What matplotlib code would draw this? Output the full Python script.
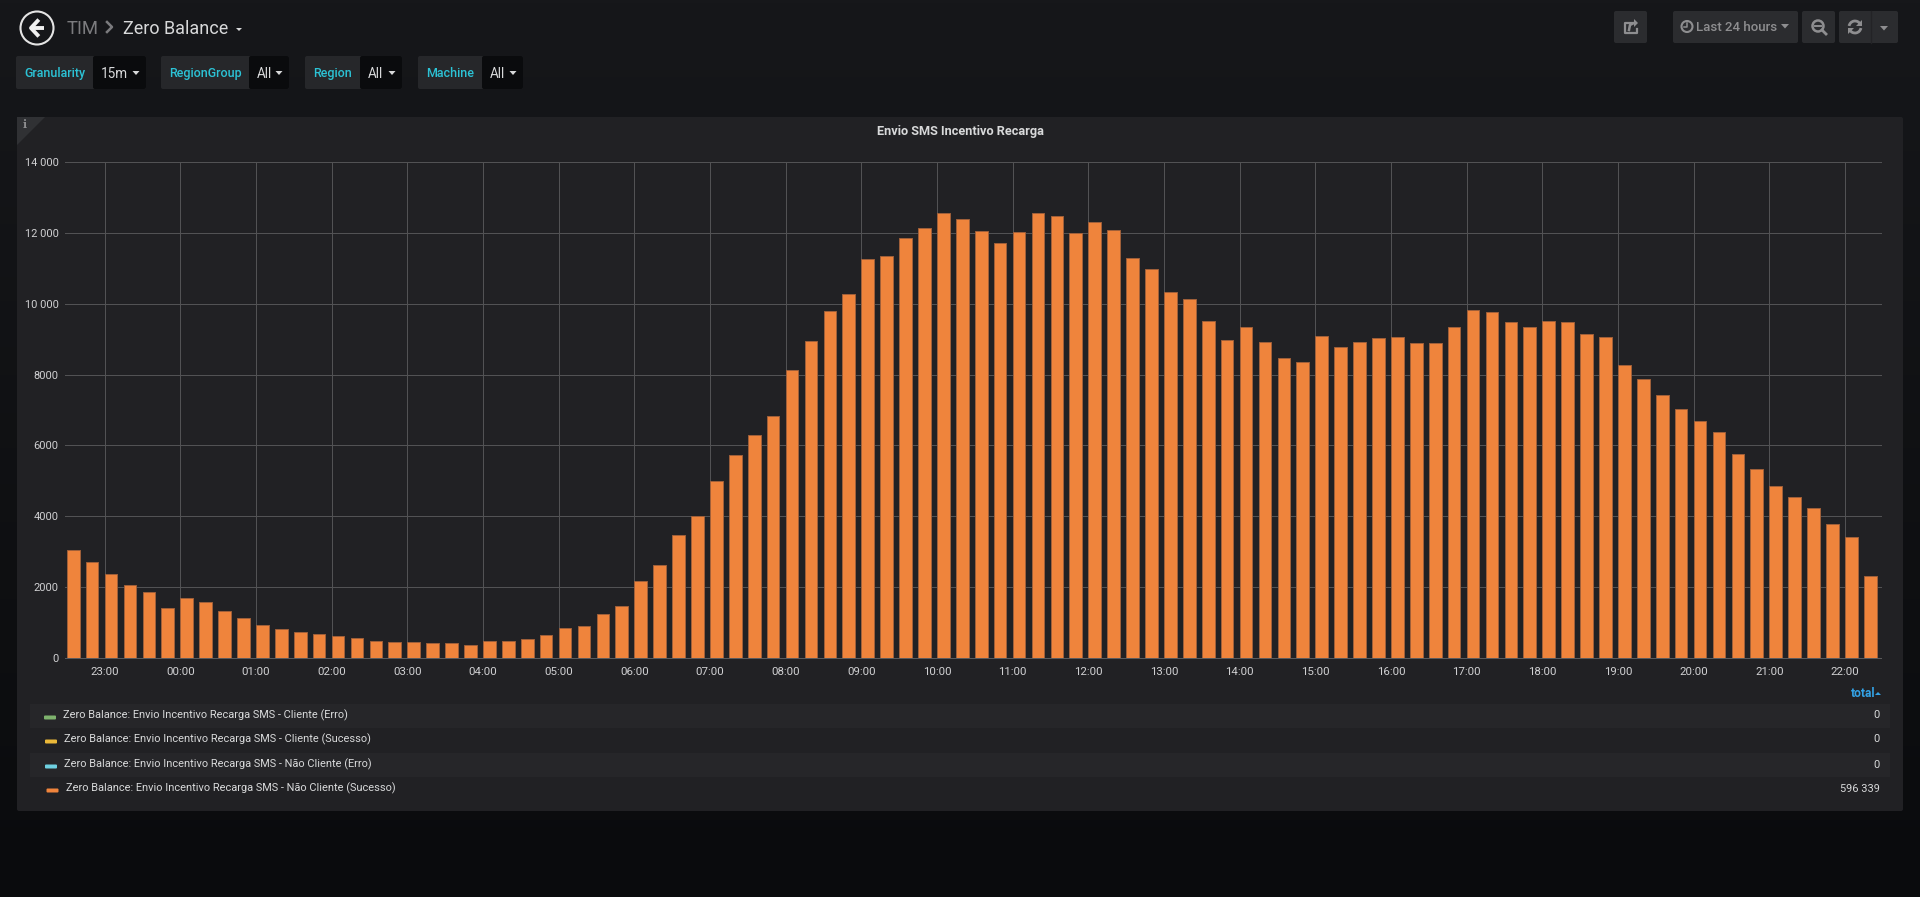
import numpy as np
import pandas as pd
import matplotlib
matplotlib.use("Agg")
import matplotlib.pyplot as plt
import matplotlib.dates as mdates
from matplotlib.patches import FancyBboxPatch, Rectangle, Polygon, Ellipse, Arc

plt.rcParams['font.family'] = ['Roboto', 'DejaVu Sans']

# values, one every 15 minutes starting 22:30
sms_sent = [3061, 2723, 2385, 2066, 1869, 1418, 1681, 1587, 1324, 1127, 920, 808,
            723, 667, 610, 554, 479, 451, 441, 423, 413, 376, 470, 488,
            526, 648, 836, 892, 1249, 1465, 2160, 2630, 3482, 4018, 4987, 5721,
            6295, 6832, 8130, 8949, 9796, 10266, 11264, 11358, 11847, 12130, 12572, 12384,
            12045, 11706, 12017, 12572, 12478, 12007, 12318, 12082, 11301, 10991, 10332, 10125,
            9504, 8968, 9344, 8911, 8460, 8347, 9090, 8770, 8921, 9034, 9062, 8902,
            8902, 9340, 9835, 9755, 9493, 9334, 9512, 9493, 9146, 9052, 8263, 7888,
            7418, 7024, 6676, 6385, 5747, 5324, 4855, 4554, 4226, 3784, 3418, 2310]
y_ticks = [0, 2000, 4000, 6000, 8000, 10000, 12000, 14000]
y_labels = ['0', '2000', '4000', '6000', '8000', '10 000', '12 000', '14 000']
series_names = ['Zero Balance: Envio Incentivo Recarga SMS - Cliente (Erro)',
                'Zero Balance: Envio Incentivo Recarga SMS - Cliente (Sucesso)',
                'Zero Balance: Envio Incentivo Recarga SMS - Não Cliente (Erro)',
                'Zero Balance: Envio Incentivo Recarga SMS - Não Cliente (Sucesso)']
series_colors = ['#7eb26d', '#eab839', '#6ed0e0', '#ef843c']
series_totals = ['0', '0', '0', '596 339']

W, H = 1920, 897
PANEL = '#212124'
CYAN = '#2cc3d6'


def px(size):
    return size * 0.72


fig = plt.figure(figsize=(W / 100, H / 100), dpi=100)

# page background and all the dashboard chrome, in pixel coordinates
bg = fig.add_axes([0, 0, 1, 1])
bg.set_xlim(0, W)
bg.set_ylim(H, 0)
bg.axis('off')
grad = np.linspace(0, 1, 256)[:, None, None]
top = np.array([0x16, 0x17, 0x1a]) / 255
bottom = np.array([0x0a, 0x0b, 0x0d]) / 255
bg.imshow(top + (bottom - top) * grad, extent=[0, W, H, 0], aspect='auto', zorder=0)


def box(x0, y0, x1, y1, color, round_=2):
    bg.add_patch(FancyBboxPatch((x0, y0), x1 - x0, y1 - y0, boxstyle='round,pad=0,rounding_size=%d' % round_,
                                fc=color, ec='none', zorder=1))


def caret(x, y, w, h, color):
    bg.add_patch(Polygon([(x - w / 2, y), (x + w / 2, y), (x, y + h)], fc=color, ec='none', zorder=3))


# back button and breadcrumb
bg.add_patch(Ellipse((37, 28), 33, 33, fc='none', ec='#e4e4e4', lw=1.5, zorder=3))
bg.plot([44, 32], [28, 28], color='#f0f0f0', lw=2.8, solid_capstyle='butt', zorder=3)
bg.plot([37.5, 31, 37.5], [21, 28, 35], color='#f0f0f0', lw=2.8, zorder=3)
bg.text(67, 28.5, 'TIM', color='#7b7b7e', fontsize=px(18.5), va='center')
bg.plot([107, 112, 107], [22, 27, 32], color='#7b7b7e', lw=1.8, zorder=3)
bg.text(123, 28.5, 'Zero Balance', color='#d8d9da', fontsize=px(18), va='center')
caret(239, 28, 6, 3, '#d8d9da')

# template variables
variables = [('Granularity', '15m', 16, 93, 146, 129), ('RegionGroup', 'All', 161, 249, 289, 271),
             ('Region', 'All', 305, 360, 402, 385), ('Machine', 'All', 418, 482, 523, 505)]
for name, value, x0, split, x1, cx in variables:
    box(x0, 56, x1, 89, '#26272a')
    box(split, 56, x1, 89, '#0a0b0d')
    bg.text((x0 + split) / 2, 73.5, name, color=CYAN, fontsize=px(12.5), fontweight='medium', ha='center', va='center')
    bg.text(split + 8, 74, value, color='#d8d9da', fontsize=px(13.5), ha='left', va='center')
    caret(x1 - 10, 71, 7, 4, '#d8d9da')

# toolbar on the right
GREY = '#8e8e90'
for x0, x1 in [(1614, 1647), (1673, 1798), (1802, 1835), (1839, 1898)]:
    box(x0, 11, x1, 43, '#2b2c2f')
bg.plot([1871, 1871], [11, 43], color='#232326', lw=1, zorder=2)
bg.plot([1632, 1625, 1625, 1637, 1637], [23, 23, 33, 33, 29], color=GREY, lw=1.6, zorder=3)
bg.plot([1629, 1630, 1634, 1634], [30, 25, 23, 23], color=GREY, lw=1.8, zorder=3)
bg.add_patch(Polygon([(1634, 19), (1638, 23), (1634, 27)], fc=GREY, ec='none', zorder=3))
bg.add_patch(Ellipse((1687, 26.5), 11, 11, fc='none', ec=GREY, lw=1.5, zorder=3))
bg.plot([1687, 1687, 1684], [23, 27, 27], color=GREY, lw=1.1, zorder=3)
bg.text(1696, 27.5, 'Last 24 hours', color=GREY, fontsize=px(13.2), fontweight='medium', va='center')
caret(1785, 24, 8, 4.5, GREY)
bg.add_patch(Ellipse((1818, 26), 11, 11, fc='none', ec=GREY, lw=1.8, zorder=3))
bg.plot([1815, 1821], [26, 26], color=GREY, lw=1.4, zorder=3)
bg.plot([1822, 1826], [30, 34], color=GREY, lw=2, zorder=3)
bg.add_patch(Arc((1855, 27), 12, 12, theta1=190, theta2=330, ec=GREY, lw=2, zorder=3))
bg.add_patch(Arc((1855, 27), 12, 12, theta1=10, theta2=150, ec=GREY, lw=2, zorder=3))
bg.add_patch(Polygon([(1862, 20), (1862, 26), (1856, 26)], fc=GREY, ec='none', zorder=3))
bg.add_patch(Polygon([(1848, 34), (1848, 28), (1854, 28)], fc=GREY, ec='none', zorder=3))
caret(1884, 26, 8, 4.5, GREY)

# panel with the info corner
box(17, 117, 1903, 811, PANEL)
bg.add_patch(Polygon([(17, 117), (45, 117), (17, 145)], fc='#303134', ec='none', zorder=2))
bg.text(24.5, 125, 'i', color='#8e8e90', fontsize=px(11), fontweight='bold', family='DejaVu Serif',
        ha='center', va='center', zorder=3)
bg.text(960, 131.5, 'Envio SMS Incentivo Recarga', color='#d8d9da', fontsize=px(12.8), fontweight='bold',
        ha='center', va='center')

# legend table
rows_y = [716, 740, 765, 789]
for i, (name, color, total) in enumerate(zip(series_names, series_colors, series_totals)):
    if i % 2 == 0:
        bg.add_patch(Rectangle((30, rows_y[i] - 12), 1860, 24, fc='#262629', ec='none', zorder=1))
    x0 = [44, 45, 45, 46.5][i]
    box(x0, rows_y[i] - 0.5, x0 + 12, rows_y[i] + 3.5, color, 1)
    bg.text(x0 + 19, rows_y[i] - 0.5, name, color='#d8d9da', fontsize=px(11), va='center', zorder=3)
    bg.text(1880, rows_y[i] - 0.5, total, color='#d8d9da', fontsize=px(11), ha='right', va='center', zorder=3)
bg.text(1875, 693.5, 'total', color='#33a2e5', fontsize=px(12), fontweight='bold', ha='right', va='center')
bg.add_patch(Polygon([(1875, 695), (1881, 695), (1878, 692)], fc='#33a2e5', ec='none', zorder=3))

# the graph itself
times = pd.date_range('2019-01-01 22:30', periods=len(sms_sent), freq='15min')
slot = 1 / 96
ax = fig.add_axes([65 / W, 1 - 658 / H, (1881 - 65) / W, (658 - 162) / H])
ax.set_facecolor('none')
ax.bar(times, sms_sent, width=slot * 0.67, align='edge', color='#ef843c', edgecolor='#a0603a', linewidth=0.7, zorder=3)
ax.set_xlim(times[0] - pd.Timedelta(minutes=1.5), times[0] - pd.Timedelta(minutes=1.5) + pd.Timedelta(hours=24))
ax.set_ylim(0, 14000)
ax.set_yticks(y_ticks)
ax.set_yticklabels(y_labels, fontsize=px(11))
ax.xaxis.set_major_locator(mdates.HourLocator())
ax.xaxis.set_major_formatter(mdates.DateFormatter('%H:%M'))
ax.grid(True, color='#525254', lw=0.72, zorder=0)
ax.set_axisbelow(True)
ax.tick_params(length=0, colors='#d0d0d2')
ax.tick_params(axis='x', pad=6.3, labelsize=px(11.5))
ax.tick_params(axis='y', pad=4.5)
for side in ['top', 'left', 'right']:
    ax.spines[side].set_visible(False)
ax.spines['bottom'].set_color('#5a5a5c')
ax.spines['bottom'].set_linewidth(0.72)
for line in ax.get_xgridlines() + ax.get_ygridlines():
    line.set_clip_on(False)

fig.savefig('out.png', dpi=100)
